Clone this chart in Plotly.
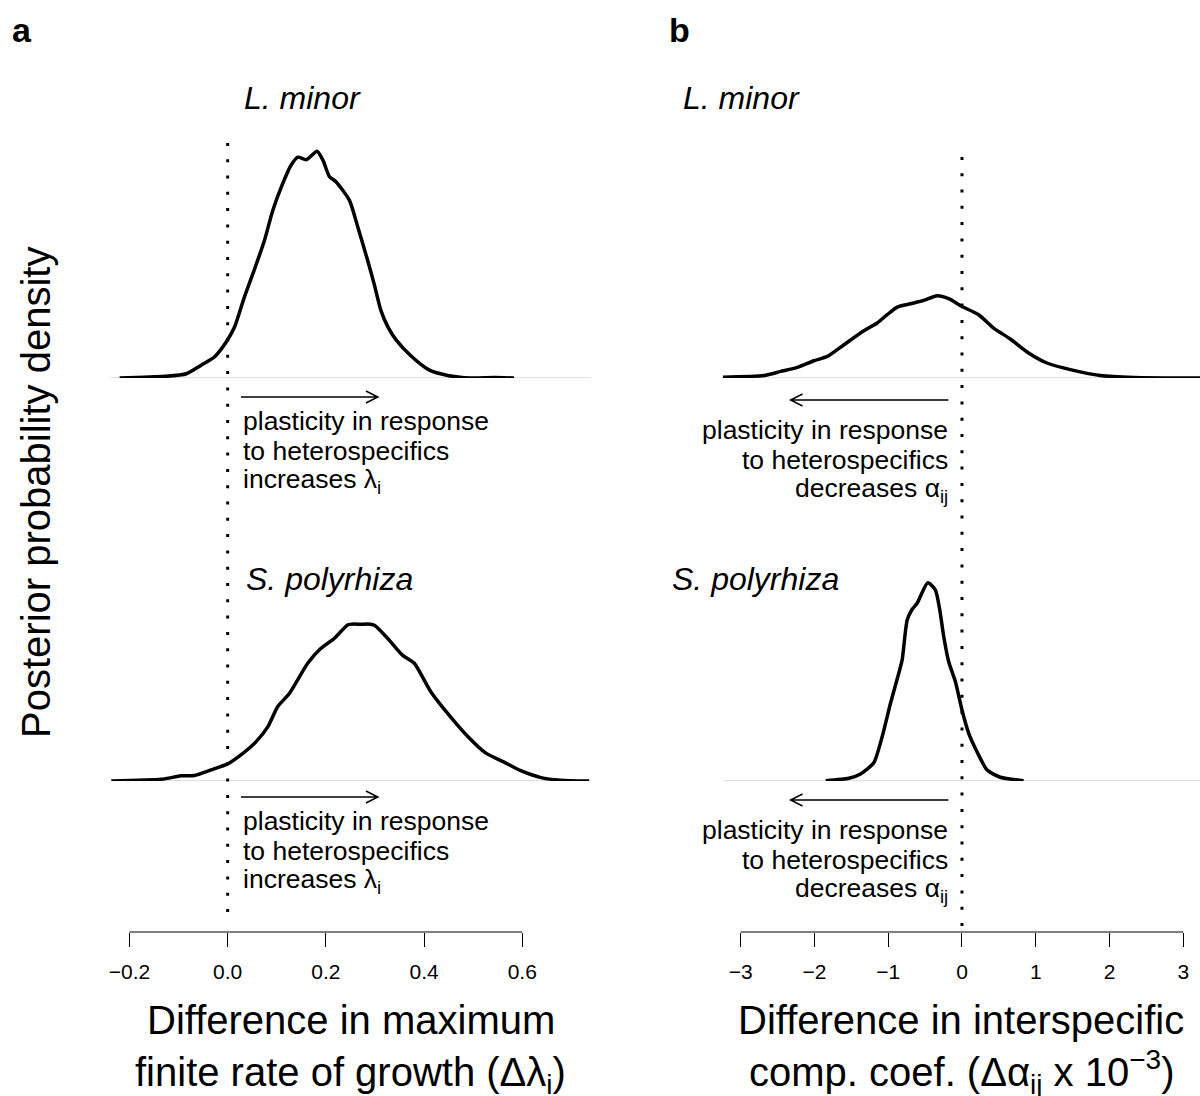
import plotly.graph_objects as go

# ---------------- data ----------------
# Panel a: difference in maximum finite rate of growth (delta lambda_i)
lm_lambda_x = [-0.220, -0.128, -0.084, -0.054, -0.027, -0.003, 0.014, 0.034, 0.054, 0.075,
               0.092, 0.112, 0.129, 0.143, 0.160, 0.182, 0.194, 0.207, 0.221, 0.248,
               0.265, 0.285, 0.298, 0.312, 0.326, 0.343, 0.373, 0.410, 0.448, 0.495, 0.543, 0.583]
lm_lambda_d = [0.00, 0.04, 0.10, 0.30, 0.49, 0.84, 1.19, 1.89, 2.52, 3.22,
               3.92, 4.54, 4.97, 5.16, 5.10, 5.30, 5.09, 4.71, 4.58, 4.15,
               3.53, 2.75, 2.21, 1.58, 1.20, 0.89, 0.52, 0.19, 0.06, 0.00, 0.01, 0.00]

sp_lambda_x = [-0.237, -0.135, -0.095, -0.068, -0.034, 0.000, 0.027, 0.058, 0.082, 0.102,
               0.126, 0.163, 0.190, 0.217, 0.245, 0.258, 0.272, 0.285, 0.299, 0.326,
               0.356, 0.380, 0.414, 0.448, 0.489, 0.526, 0.563, 0.597, 0.638, 0.678, 0.736]
sp_lambda_d = [0.00, 0.04, 0.12, 0.13, 0.26, 0.40, 0.61, 0.92, 1.27, 1.74,
               2.05, 2.75, 3.10, 3.33, 3.65, 3.67, 3.66, 3.67, 3.64, 3.33,
               2.94, 2.75, 2.08, 1.58, 1.04, 0.65, 0.44, 0.24, 0.08, 0.02, 0.00]

# Panel b: difference in interspecific competition coefficient (delta alpha_ij x 1e-3)
lm_alpha_x = [-3.246, -2.683, -2.457, -2.231, -2.007, -1.825, -1.600, -1.330, -1.149, -1.014,
              -0.878, -0.698, -0.518, -0.337, -0.180, 0.000, 0.226, 0.429, 0.655, 0.903,
              1.152, 1.511, 1.873, 2.324, 3.226]
lm_alpha_d = [0.005, 0.017, 0.044, 0.071, 0.115, 0.144, 0.222, 0.315, 0.367, 0.422,
              0.473, 0.495, 0.517, 0.549, 0.529, 0.477, 0.422, 0.333, 0.260, 0.167,
              0.100, 0.051, 0.017, 0.004, 0.000]

sp_alpha_x = [-1.848, -1.533, -1.375, -1.195, -1.082, -0.969, -0.857, -0.811, -0.743, -0.675,
              -0.608, -0.464, -0.360, -0.301, -0.247, -0.180, -0.089, 0.000, 0.091, 0.204,
              0.340, 0.520, 0.835]
sp_alpha_d = [0.002, 0.018, 0.047, 0.122, 0.295, 0.518, 0.718, 0.807, 1.073, 1.145,
              1.185, 1.322, 1.273, 1.140, 0.962, 0.795, 0.662, 0.473, 0.318, 0.195,
              0.073, 0.025, 0.002]

tick_a_vals = [-0.2, 0.0, 0.2, 0.4, 0.6]
tick_a_text = ["\u22120.2", "0.0", "0.2", "0.4", "0.6"]
tick_b_vals = [-3, -2, -1, 0, 1, 2, 3]
tick_b_text = ["\u22123", "\u22122", "\u22121", "0", "1", "2", "3"]

species = ["L. minor", "S. polyrhiza"]
note_a = ["plasticity in response", "to heterospecifics", "increases \u03bb<sub>i</sub>"]
note_b = ["plasticity in response", "to heterospecifics", "decreases \u03b1<sub>ij</sub>"]
xtitle_a = ["Difference in maximum", "finite rate of growth (\u0394\u03bb<sub>i</sub>)"]
xtitle_b = ["Difference in interspecific", "comp. coef. (\u0394\u03b1<sub>ij</sub> x 10<sup>\u22123</sup>)"]
ytitle = "Posterior probability density"

# arrow spans (data units of each panel)
arrow_a = (0.027, 0.306)
arrow_b = (-0.184, -2.324)

# ---------------- layout geometry ----------------
W, H = 1200, 1096
FONT = "Liberation Sans, Arial, Helvetica, sans-serif"


def px(p):
    return p / W


def py(p):
    return 1 - p / H


xa_dom_px = (109, 590)
xb_dom_px = (722, 1200)
xa_range = [-0.238, 0.740]
xb_range = [-3.242, 3.226]
top_dom = [py(378), py(131)]
bot_dom = [py(781), py(534)]
ya_range = [0, 247 / 42.8]
yb_range = [0, 247 / 150.0]
axis_px = 932

fig = go.Figure()
line_style = dict(color="black", width=3.5, shape="spline", smoothing=0.6)
fig.add_trace(go.Scatter(x=lm_lambda_x, y=lm_lambda_d, mode="lines", line=line_style,
                         xaxis="x", yaxis="y", hoverinfo="skip"))
fig.add_trace(go.Scatter(x=sp_lambda_x, y=sp_lambda_d, mode="lines", line=line_style,
                         xaxis="x", yaxis="y2", hoverinfo="skip"))
fig.add_trace(go.Scatter(x=lm_alpha_x, y=lm_alpha_d, mode="lines", line=line_style,
                         xaxis="x2", yaxis="y3", hoverinfo="skip"))
fig.add_trace(go.Scatter(x=sp_alpha_x, y=sp_alpha_d, mode="lines", line=line_style,
                         xaxis="x2", yaxis="y4", hoverinfo="skip"))

xcommon = dict(anchor="free", position=py(axis_px), showline=False, showgrid=False,
               zeroline=False, ticks="outside", ticklen=14, tickwidth=1, tickcolor="black",
               tickmode="array", ticklabelstandoff=7,
               tickfont=dict(family=FONT, size=21, color="black"), fixedrange=True)
ycommon = dict(visible=False, showgrid=False, zeroline=False, fixedrange=True)

fig.update_layout(
    width=W, height=H,
    margin=dict(l=0, r=0, t=0, b=0),
    paper_bgcolor="white", plot_bgcolor="white",
    showlegend=False,
    xaxis=dict(domain=[px(xa_dom_px[0]), px(xa_dom_px[1])], range=xa_range,
               tickvals=tick_a_vals, ticktext=tick_a_text, **xcommon),
    xaxis2=dict(domain=[px(xb_dom_px[0]), px(xb_dom_px[1])], range=xb_range,
                tickvals=tick_b_vals, ticktext=tick_b_text, **xcommon),
    yaxis=dict(domain=top_dom, range=ya_range, anchor="x", **ycommon),
    yaxis2=dict(domain=bot_dom, range=ya_range, anchor="x", **ycommon),
    yaxis3=dict(domain=top_dom, range=yb_range, anchor="x2", **ycommon),
    yaxis4=dict(domain=bot_dom, range=yb_range, anchor="x2", **ycommon),
)

shapes = []
# gray zero baselines
for xr, yr in [("x", "y"), ("x", "y2"), ("x2", "y3"), ("x2", "y4")]:
    shapes.append(dict(type="line", xref=xr + " domain", x0=0, x1=1, yref=yr, y0=0, y1=0,
                       line=dict(color="#bebebe", width=1), layer="below"))
# dotted zero reference lines
shapes.append(dict(type="line", xref="x", x0=0, x1=0, yref="paper", y0=py(912), y1=py(131),
                   line=dict(color="black", width=3, dash="3px,13.3px")))
shapes.append(dict(type="line", xref="x2", x0=0, x1=0, yref="paper", y0=py(926), y1=py(146),
                   line=dict(color="black", width=3, dash="3px,13.3px")))
# axis lines spanning first to last tick (R style)
shapes.append(dict(type="line", xref="x", x0=tick_a_vals[0], x1=tick_a_vals[-1], yref="paper",
                   y0=py(axis_px), y1=py(axis_px), line=dict(color="black", width=1)))
shapes.append(dict(type="line", xref="x2", x0=tick_b_vals[0], x1=tick_b_vals[-1], yref="paper",
                   y0=py(axis_px), y1=py(axis_px), line=dict(color="black", width=1)))


def arrow(xref, span, rng, dom_px, y_px):
    x0, x1 = span
    per_px = (rng[1] - rng[0]) / (dom_px[1] - dom_px[0])
    d = 1 if x1 > x0 else -1
    hx = x1 - d * 12 * per_px
    y = py(y_px)
    dy = 6 / H
    path = (f"M {x0},{y} L {x1},{y} M {hx},{y + dy} L {x1},{y} L {hx},{y - dy}")
    return dict(type="path", xref=xref, yref="paper", path=path,
                line=dict(color="black", width=1.4))


shapes.append(arrow("x", arrow_a, xa_range, xa_dom_px, 397))
shapes.append(arrow("x", arrow_a, xa_range, xa_dom_px, 797))
shapes.append(arrow("x2", arrow_b, xb_range, xb_dom_px, 400))
shapes.append(arrow("x2", arrow_b, xb_range, xb_dom_px, 800))
fig.update_layout(shapes=shapes)

ann = []


def text(t, x, y, size, xanchor="left", italic=False, bold=False, angle=0,
         yanchor="middle", yshift=0):
    s = t
    if italic:
        s = f"<i>{s}</i>"
    if bold:
        s = f"<b>{s}</b>"
    ann.append(dict(text=s, x=px(x), y=py(y), xref="paper", yref="paper", showarrow=False,
                    xanchor=xanchor, yanchor=yanchor, textangle=angle, yshift=yshift,
                    font=dict(family=FONT, size=size, color="black")))


# panel letters
text("a", 8, 30, 34, bold=True)
text("b", 666, 30, 34, bold=True)
# species labels
text(species[0], 240, 98, 32, italic=True)
text(species[1], 242, 579, 32, italic=True)
text(species[0], 680, 98, 32, italic=True)
text(species[1], 669, 579, 32, italic=True)
# notes
for i, line in enumerate(note_a):
    text(line, 239, 421 + 30 * i, 26.5)
    text(line, 239, 821 + 30 * i, 26.5)
for i, line in enumerate(note_b):
    text(line, 950, 430 + 30 * i, 26.5, xanchor="right")
    text(line, 950, 830 + 30 * i, 26.5, xanchor="right")
# x titles
xa_mid = (xa_dom_px[0] + xa_dom_px[1]) / 2
xb_mid = (xb_dom_px[0] + xb_dom_px[1]) / 2
text(xtitle_a[0], xa_mid, 1020, 40, xanchor="center")
text(xtitle_b[0], xb_mid, 1020, 40, xanchor="center")
text(xtitle_a[1], xa_mid, H, 40, xanchor="center", yanchor="bottom", yshift=-6)
text(xtitle_b[1], xb_mid, H, 40, xanchor="center", yanchor="bottom", yshift=-6)
# y title
text(ytitle, 34, 492, 40, xanchor="center", angle=-90)

fig.update_layout(annotations=ann)
fig.write_html("out.html", config={"displayModeBar": False},
               post_script="document.body.style.margin='0px';")
